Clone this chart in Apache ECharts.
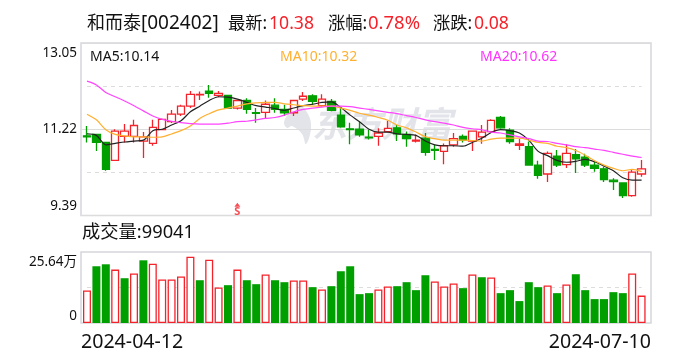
<!DOCTYPE html>
<html><head><meta charset="utf-8">
<style>html,body{margin:0;padding:0;background:#fff}#c{width:688px;height:360px}</style>
<script src="https://cdn.jsdelivr.net/npm/echarts@6/dist/echarts.min.js"></script>
</head><body><div id="c"></div>
<script>
const FONT = '"Noto Sans","Noto Sans CJK SC",sans-serif';
const RED = '#f4222a', GREEN = '#009f00', GRID = '#dcdcdc', FRAME = '#d6d6dc';
const dateLabels = ['2024-04-12', '2024-07-10'];
const priceLabels = ['9.39', '11.22', '13.05'];
const volumeLabels = ['0', '25.64万'];
const priceMin = 9.39, priceMid = 11.22, priceMax = 13.05;
const priceDashed = [12.135, 10.305];
const volumeMax = 25.64, volumeDashed = 12.82;
// open, close, low, high
const candles = [
[11.08,11.06,10.94,11.29],[11.11,10.94,10.76,11.11],[10.94,10.37,10.34,10.94],[10.56,11.18,10.56,11.22],
[11.07,11.18,10.94,11.33],[11.07,11.30,10.94,11.42],[10.97,11.06,10.61,11.16],[10.92,11.26,10.87,11.42],
[11.21,11.43,11.21,11.45],[11.38,11.54,11.35,11.63],[11.54,11.71,11.50,11.74],[11.71,11.96,11.67,12.03],
[11.95,11.96,11.84,12.02],[12.03,11.98,11.89,12.16],[11.94,11.98,11.90,12.03],[11.94,11.67,11.67,11.94],
[11.67,11.83,11.64,11.83],[11.83,11.64,11.55,11.88],[11.57,11.56,11.36,11.67],[11.58,11.75,11.45,11.83],
[11.73,11.64,11.57,11.88],[11.64,11.57,11.50,11.74],[11.57,11.83,11.50,11.83],[11.86,11.92,11.82,12.01],
[11.93,11.81,11.74,11.96],[11.72,11.86,11.70,11.96],[11.81,11.62,11.60,11.86],[11.52,11.27,11.25,11.67],
[11.23,11.21,10.90,11.36],[11.22,11.10,11.06,11.38],[11.05,11.04,11.00,11.21],[11.07,11.14,10.87,11.24],
[11.17,11.24,11.15,11.40],[11.25,11.12,10.97,11.31],[11.11,11.02,10.85,11.17],[10.97,10.99,10.94,11.11],
[11.03,10.73,10.66,11.14],[10.79,10.77,10.57,10.89],[10.75,10.87,10.48,10.92],[10.89,11.02,10.85,11.14],
[11.07,10.99,10.94,11.11],[10.97,11.18,10.76,11.18],[11.06,11.16,10.91,11.31],[11.17,11.41,11.15,11.43],
[11.47,11.25,11.23,11.50],[11.20,10.96,10.91,11.24],[10.88,10.91,10.78,11.02],[10.85,10.46,10.46,10.96],
[10.46,10.24,10.17,10.55],[10.27,10.71,10.10,10.75],[10.65,10.46,10.42,10.78],[10.47,10.71,10.40,10.90],
[10.68,10.59,10.29,10.80],[10.63,10.46,10.42,10.70],[10.46,10.39,10.32,10.53],[10.38,10.15,10.10,10.43],
[10.14,10.11,9.93,10.18],[10.08,9.81,9.76,10.08],[9.81,10.31,9.79,10.36],[10.27,10.38,10.21,10.57]];
const ma5 = [11.12,11.09,10.89,10.92,10.95,10.97,10.99,11.19,11.22,11.31,11.40,11.59,11.71,11.83,11.91,11.90,11.86,11.79,11.72,11.69,
11.66,11.62,11.67,11.72,11.75,11.79,11.80,11.68,11.52,11.38,11.22,11.16,11.16,11.12,11.11,11.09,10.97,10.89,10.87,10.87,
10.86,10.94,11.03,11.15,11.21,11.19,11.14,10.99,10.75,10.66,10.56,10.52,10.54,10.58,10.53,10.44,10.34,10.19,10.14,10.14];
const ma10 = [11.54,11.42,11.21,11.11,11.08,11.06,11.06,11.05,11.06,11.12,11.19,11.29,11.45,11.55,11.63,11.67,11.71,11.76,11.78,11.79,
11.79,11.76,11.74,11.72,11.71,11.71,11.71,11.67,11.62,11.56,11.52,11.47,11.41,11.31,11.25,11.16,11.06,11.02,10.99,10.99,
10.99,10.98,10.97,11.01,11.03,11.03,11.03,10.99,10.94,10.92,10.86,10.83,10.77,10.67,10.55,10.46,10.39,10.34,10.37,10.32];
const ma20 = [12.24,12.16,12.00,11.91,11.82,11.72,11.61,11.50,11.43,11.39,11.36,11.34,11.33,11.33,11.33,11.35,11.38,11.39,11.42,11.45,
11.47,11.52,11.59,11.64,11.67,11.69,11.71,11.71,11.70,11.67,11.64,11.61,11.58,11.55,11.51,11.47,11.42,11.38,11.35,11.31,
11.26,11.23,11.21,11.16,11.14,11.10,11.06,11.02,10.97,10.96,10.92,10.89,10.85,10.83,10.80,10.77,10.73,10.69,10.65,10.62];
const volume = [11.74,20.49,21.20,19.29,16.17,17.85,22.64,21.44,15.69,15.69,16.77,23.96,15.45,22.88,12.82,13.66,19.29,15.45,14.02,17.49,
15.45,14.74,15.33,15.33,12.94,12.10,13.30,18.69,20.49,10.42,10.78,12.10,13.18,13.30,14.74,11.86,17.25,14.98,13.18,14.26,
12.58,17.49,16.53,16.41,10.78,11.86,7.91,14.74,12.94,13.54,10.78,13.90,17.61,11.86,8.63,8.63,11.14,10.78,17.85,9.90];
const volumeUp = [1,0,0,1,0,1,0,1,1,1,1,1,0,1,1,0,1,0,0,1,0,0,1,1,0,1,0,0,0,0,0,1,1,0,0,0,0,1,1,1,0,1,0,1,0,0,0,0,0,1,0,1,0,0,0,0,0,0,1,1];
const sellIndex = 16, sellMarkerValue = 9.62;
const cats = candles.map((_, i) => i);

const txt = (x, y, t, fill, size, extra) => ({type:'text', x, y, z:10, silent:true,
  style:Object.assign({text:t, fill, font:size+'px '+FONT, textVerticalAlign:'middle'}, extra||{})});
const dashed = v => [{coord:[0, v]}, {coord:[59, v]}];
const lineS = (name, data, color) => ({name, type:'line', data, xAxisIndex:0, yAxisIndex:0, symbol:'none', smooth:0.3,
  lineStyle:{color, width:1.2}, z:5, silent:true, animation:false});

const chart = echarts.init(document.getElementById('c'), null, {renderer:'canvas'});
chart.setOption({
  animation:false,
  backgroundColor:'#fff',
  textStyle:{fontFamily:FONT},
  grid:[
    {left:82.3, width:564, top:43, height:172.5},
    {left:82.3, width:564, top:252, height:71},
    {left:81, width:570, top:43, height:172.5, show:true, borderColor:FRAME, borderWidth:1.5, backgroundColor:'transparent', z:0},
    {left:81, width:570, top:252, height:71, show:true, borderColor:FRAME, borderWidth:1.5, backgroundColor:'transparent', z:0}
  ],
  xAxis:[
    {type:'category', gridIndex:0, data:cats, show:false},
    {type:'category', gridIndex:1, data:cats, show:false},
    {type:'category', gridIndex:2, show:false, boundaryGap:false, data:['a','b']},
    {type:'category', gridIndex:3, boundaryGap:false, data:dateLabels,
      axisLine:{show:false}, axisTick:{show:false}, splitLine:{show:false},
      axisLabel:{show:true, interval:0, alignMinLabel:'left', alignMaxLabel:'right', color:'#111', fontSize:19.6, margin:10, fontFamily:FONT}}
  ],
  yAxis:[
    {type:'value', gridIndex:0, min:priceMin, max:priceMax, show:false, splitLine:{show:false}},
    {type:'value', gridIndex:1, min:0, max:volumeMax, show:false, splitLine:{show:false}},
    {type:'category', gridIndex:2, boundaryGap:false, data:priceLabels,
      axisLine:{show:false}, axisTick:{show:false},
      splitLine:{show:true, lineStyle:{color:GRID, width:1}},
      axisLabel:{show:true, interval:0, color:'#111', fontSize:13.5, margin:4, padding:[3,0,3,0], verticalAlignMinLabel:'bottom', verticalAlignMaxLabel:'top', fontFamily:FONT}},
    {type:'category', gridIndex:3, boundaryGap:false, data:volumeLabels,
      axisLine:{show:false}, axisTick:{show:false}, splitLine:{show:false},
      axisLabel:{show:true, interval:0, color:'#111', fontSize:13.5, margin:4, padding:[3,0,0,0], verticalAlignMinLabel:'bottom', verticalAlignMaxLabel:'top', fontFamily:FONT}}
  ],
  graphic:[
    {type:'text', x:312, y:124, z:-1, silent:true, style:{text:'东方财富', fill:'#e3e4e9', textVerticalAlign:'middle', font:'italic bold 35px "Noto Sans CJK SC"'}},
    {type:'polygon', x:284, y:104, z:-1, silent:true, shape:{smooth:0.4, points:[[14,0],[24,10],[27,24],[22,40],[18,30],[8,22],[3,24],[0,18],[6,8]]}, style:{fill:'#e3e4e9'}},
    txt(87, 24, '和而泰', '#111', 18),
    txt(141, 24, '[002402]', '#111', 19),
    txt(228, 24, '最新:', '#111', 17.3),
    txt(269, 24, '10.38', RED, 17.6),
    txt(328, 24, '涨幅:', '#111', 17.3),
    txt(368, 24, '0.78%', RED, 18.5),
    txt(433, 24, '涨跌:', '#111', 17.3),
    txt(474, 24, '0.08', RED, 17.6),
    txt(90, 57, 'MA5:10.14', '#111', 14),
    txt(280, 57, 'MA10:10.32', '#ffb030', 14),
    txt(480, 57, 'MA20:10.62', '#ff33ff', 14),
    txt(82, 233, '成交量:99041', '#111', 18.3)
  ],
  series:[
    {type:'candlestick', name:'K', xAxisIndex:0, yAxisIndex:0, data:candles, barWidth:8, z:3, silent:true,
      itemStyle:{color:'#fff', color0:GREEN, borderColor:RED, borderColor0:GREEN, borderWidth:1.3},
      markLine:{silent:true, z:1, symbol:'none', label:{show:false}, animation:false,
        lineStyle:{color:GRID, type:[4,4], width:1},
        data:priceDashed.map(dashed)}},
    lineS('MA5', ma5, '#222'),
    lineS('MA10', ma10, '#ffb030'),
    lineS('MA20', ma20, '#ff44ff'),
    {type:'scatter', name:'S', xAxisIndex:0, yAxisIndex:0, silent:true, z:6,
      data:[[sellIndex, sellMarkerValue]], symbol:'triangle', symbolSize:[6,4], itemStyle:{color:RED},
      label:{show:true, position:'bottom', distance:0, formatter:'S', color:RED, fontSize:11, fontWeight:'bold', fontFamily:FONT}},
    {type:'bar', name:'VOL', xAxisIndex:1, yAxisIndex:1, barWidth:8, z:3, silent:true,
      data:volume.map((v, i) => ({value:v, itemStyle: volumeUp[i]
        ? {color:'#fff', borderColor:RED, borderWidth:1.3}
        : {color:GREEN, borderWidth:0}})),
      markLine:{silent:true, z:1, symbol:'none', label:{show:false}, animation:false,
        lineStyle:{color:GRID, type:[4,4], width:1},
        data:[dashed(volumeDashed)]}}
  ]
});
</script></body></html>
